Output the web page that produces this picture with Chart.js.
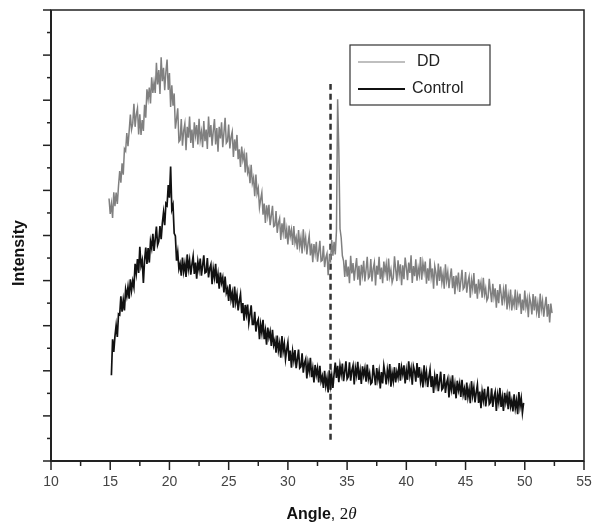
<!DOCTYPE html>
<html>
<head>
<meta charset="utf-8">
<script src="https://cdn.jsdelivr.net/npm/chart.js@4"></script>
<style>
  html, body { margin: 0; padding: 0; background: #fff; }
  #wrap { width: 592px; height: 526px; }
</style>
</head>
<body>
<div id="wrap"><canvas id="xrd" width="592" height="526"></canvas></div>
<script>
// angle grid (2θ, degrees) of the scans
const step = 0.1;
const ddStart = 14.9;
const ctrlStart = 15.1;

// DD intensities (arbitrary units), 2° per row
const ddValues = [
  5.82,5.48,5.70,5.39,5.96,5.65,5.95,5.70,6.10,6.43,6.17,6.60,6.35,6.92,6.87,7.27,6.98,7.32,7.68,7.35,
  7.48,7.92,7.41,7.68,7.82,7.24,7.69,7.23,7.56,7.32,7.90,7.61,8.24,8.03,8.28,7.93,8.51,8.16,8.40,8.16,
  8.83,8.35,8.67,8.14,8.95,8.42,8.72,8.22,8.63,8.90,8.23,8.60,7.85,8.33,7.88,8.15,7.37,7.58,7.82,7.08,
  7.12,7.58,6.99,7.32,7.48,6.89,7.41,7.17,7.64,7.05,7.35,6.94,7.51,7.22,7.45,7.02,7.59,7.12,7.30,6.96,
  7.54,7.09,7.35,6.92,7.64,7.18,7.45,6.99,7.32,7.58,7.02,7.38,6.86,7.41,7.15,7.51,6.96,7.28,7.61,7.05,
  7.09,7.46,6.93,7.18,7.30,6.74,7.13,6.88,7.23,6.69,6.91,6.52,6.97,6.68,6.82,6.40,6.84,6.39,6.49,6.16,
  6.57,6.16,6.28,5.87,6.35,5.93,6.05,5.62,5.80,5.95,5.46,5.71,5.28,5.67,5.44,5.68,5.23,5.44,5.66,5.20,
  5.22,5.54,5.06,5.28,5.38,4.90,5.27,5.06,5.40,4.93,5.14,4.80,5.22,4.98,5.13,4.79,5.21,4.84,4.96,4.69,
  5.12,4.76,4.95,4.60,5.14,4.77,4.95,4.58,4.82,5.00,4.56,4.82,4.41,4.81,4.60,4.86,4.42,4.64,4.88,4.43,
  4.45,4.77,4.30,4.51,4.60,4.12,4.52,4.44,4.90,4.55,4.86,4.58,5.10,8.02,6.90,5.15,4.95,4.55,4.44,4.08,
  4.46,4.09,4.31,3.94,4.55,4.16,4.39,4.00,4.28,4.50,4.02,4.33,3.89,4.35,4.13,4.44,3.98,4.24,4.53,4.05,
  4.09,4.48,3.98,4.26,4.40,3.89,4.33,4.13,4.53,4.03,4.29,3.94,4.42,4.18,4.37,4.00,4.49,4.09,4.24,3.96,
  4.06,4.54,4.25,3.99,4.45,4.14,4.36,3.90,4.34,4.03,4.51,4.29,4.01,4.40,4.17,4.56,3.95,4.32,4.10,4.47,
  4.00,4.28,4.12,4.52,4.02,4.39,4.19,4.42,3.93,4.27,4.00,4.49,4.08,4.27,3.82,4.32,4.17,3.89,4.38,3.99,
  4.31,3.96,4.15,3.82,4.36,4.00,4.19,3.83,4.08,4.27,3.83,4.10,3.70,4.11,3.90,4.18,3.75,3.99,4.24,3.81,
  3.85,4.19,3.73,3.97,4.09,3.62,4.01,3.82,4.17,3.71,3.93,3.60,4.03,3.80,3.96,3.62,4.06,3.69,3.83,3.56,
  3.62,4.04,3.77,3.52,3.93,3.64,3.83,3.40,3.79,3.50,3.92,3.71,3.45,3.79,3.58,3.92,3.36,3.68,3.47,3.80,
  3.34,3.59,3.45,3.80,3.35,3.67,3.50,3.71,3.26,3.58,3.34,3.78,3.42,3.59,3.19,3.64,3.51,3.25,3.70,3.34,
  3.65,3.31,3.50,3.17,3.71,3.36,3.55,3.20,3.44,3.64,3.20,3.48,3.07,3.49,3.28
];

// Control intensities, 2° per row
const ctrlValues = [
  1.90,2.70,2.42,2.77,3.01,2.75,3.26,3.24,3.65,3.31,3.57,3.34,3.80,3.65,3.86,3.60,4.03,3.78,3.99,3.85,
  4.37,4.16,4.48,4.17,4.75,4.33,4.45,3.95,4.45,4.73,4.37,4.72,4.40,4.87,4.72,5.04,4.66,4.92,5.20,4.79,
  4.87,5.21,4.92,5.27,5.51,5.23,5.71,5.67,6.12,5.84,6.53,5.58,5.68,5.05,4.99,4.44,4.63,4.26,4.37,4.11,
  4.51,4.20,4.38,4.08,4.58,4.26,4.45,4.13,4.36,4.54,4.15,4.40,4.04,4.42,4.24,4.49,4.11,4.33,4.56,4.17,
  4.19,4.50,4.07,4.27,4.36,3.92,4.26,4.07,4.37,3.94,4.14,3.82,4.18,3.95,4.07,3.74,4.09,3.73,3.82,3.55,
  3.92,3.58,3.73,3.40,3.87,3.52,3.69,3.34,3.55,3.70,3.28,3.50,3.11,3.46,3.25,3.47,3.06,3.25,3.45,3.03,
  3.03,3.31,2.87,3.07,3.14,2.70,3.03,2.84,3.13,2.70,2.89,2.58,2.96,2.74,2.87,2.55,2.91,2.57,2.68,2.40,
  2.78,2.45,2.61,2.29,2.77,2.43,2.60,2.26,2.47,2.63,2.22,2.45,2.07,2.43,2.23,2.46,2.06,2.26,2.47,2.06,
  2.09,2.39,1.96,2.17,2.26,1.83,2.17,1.99,2.29,1.86,2.05,1.74,2.13,1.91,2.06,1.74,2.11,1.77,1.88,1.62,
  2.00,1.67,1.84,1.52,2.01,1.68,1.89,1.62,1.93,2.18,1.84,2.11,1.75,2.11,1.92,2.16,1.77,1.98,2.21,1.82,
  1.87,2.19,1.78,2.01,2.12,1.70,2.06,1.90,2.20,1.80,2.00,1.71,2.10,1.90,2.05,1.76,2.14,1.82,1.95,1.71,
  1.74,2.13,1.90,1.68,2.06,1.81,1.99,1.61,1.97,1.72,2.11,1.93,1.70,2.02,1.83,2.15,1.65,1.95,1.77,2.08,
  1.74,1.98,1.85,2.17,1.78,2.08,1.92,2.12,1.72,2.01,1.80,2.21,1.89,2.05,1.69,2.10,1.99,1.76,2.17,1.85,
  2.08,1.76,1.93,1.63,2.12,1.79,1.97,1.64,1.86,2.03,1.64,1.88,1.51,1.88,1.69,1.93,1.55,1.76,1.98,1.58,
  1.62,1.93,1.51,1.73,1.83,1.41,1.76,1.59,1.90,1.48,1.69,1.39,1.78,1.57,1.72,1.42,1.80,1.47,1.60,1.35,
  1.74,1.42,1.59,1.28,1.77,1.45,1.63,1.30,1.52,1.69,1.29,1.54,1.17,1.54,1.35,1.60,1.21,1.43,1.65,1.26,
  1.30,1.61,1.20,1.42,1.53,1.11,1.47,1.30,1.62,1.20,1.41,1.11,1.51,1.30,1.46,1.15,1.54,1.21,1.34,1.10,
  1.48,1.17,1.34,1.04,1.53,1.21,1.39,1.07,1.29
];

// vertical reference line (dashed)
const markerAngle = [33.6, 33.6];
const markerValues = [0.47, 8.36];

// axis ranges and ticks
const xMin = 10, xMax = 55;
const yMin = 0, yMax = 10;
const xMajorTicks = [10, 15, 20, 25, 30, 35, 40, 45, 50, 55];
const yMajorStep = 1;

const seriesNames = ['DD', 'Control'];
const seriesColors = ['#808080', '#111111'];

function toPoints(start, values) {
  return values.map((v, i) => ({ x: +(start + i * step).toFixed(2), y: v }));
}

const FONT = '"Liberation Sans", Arial, sans-serif';

// draws the frame, ticks, labels, titles and legend box
const framePlugin = {
  id: 'frame',
  afterDatasetsDraw(chart) {
    const ctx = chart.ctx;
    const xs = chart.scales.x, ys = chart.scales.y;
    const a = chart.chartArea;
    ctx.save();
    ctx.strokeStyle = '#222';
    ctx.lineWidth = 1.5;
    ctx.strokeRect(a.left, a.top, a.right - a.left, a.bottom - a.top);
    ctx.lineWidth = 2;
    ctx.beginPath();
    ctx.moveTo(a.left, a.top); ctx.lineTo(a.left, a.bottom); ctx.lineTo(a.right, a.bottom);
    ctx.stroke();

    // x ticks
    ctx.lineWidth = 1.5;
    ctx.fillStyle = '#444';
    ctx.font = '14px ' + FONT;
    ctx.textAlign = 'center';
    ctx.textBaseline = 'middle';
    for (let v = xMin; v <= xMax + 0.01; v += 2.5) {
      const px = xs.getPixelForValue(v);
      const major = xMajorTicks.includes(v);
      ctx.beginPath();
      ctx.moveTo(px, a.bottom);
      ctx.lineTo(px, a.bottom + (major ? 9 : 5));
      ctx.stroke();
      if (major) ctx.fillText(String(v), px, a.bottom + 21);
    }
    // y ticks (no labels)
    for (let v = yMin; v <= yMax + 0.01; v += yMajorStep / 2) {
      const py = ys.getPixelForValue(v);
      const major = Math.abs(v % yMajorStep) < 0.01;
      ctx.beginPath();
      ctx.moveTo(a.left, py);
      ctx.lineTo(a.left - (major ? 8 : 4), py);
      ctx.stroke();
    }

    // x title: "Angle, 2θ"
    ctx.fillStyle = '#111';
    ctx.textAlign = 'left';
    const parts = [
      ['Angle', 'bold 16px ' + FONT],
      [', ', '16px ' + FONT],
      ['2', '17px "Liberation Serif", serif'],
      ['\u03B8', 'italic 17px "Liberation Serif", serif']
    ];
    let total = 0;
    parts.forEach(p => { ctx.font = p[1]; total += ctx.measureText(p[0]).width; });
    let tx = (a.left + a.right) / 2 - total / 2 + 4;
    parts.forEach(p => {
      ctx.font = p[1];
      ctx.fillText(p[0], tx, 515);
      tx += ctx.measureText(p[0]).width;
    });

    // y title
    ctx.save();
    ctx.translate(20, 253);
    ctx.rotate(-Math.PI / 2);
    ctx.textAlign = 'center';
    ctx.font = 'bold 16px ' + FONT;
    ctx.fillText('Intensity', 0, 0);
    ctx.restore();

    // legend
    ctx.fillStyle = '#fff';
    ctx.fillRect(350, 45, 140, 60);
    ctx.strokeStyle = '#333';
    ctx.lineWidth = 1.2;
    ctx.strokeRect(350, 45, 140, 60);
    const rows = [62, 89];
    seriesNames.forEach((name, i) => {
      ctx.strokeStyle = seriesColors[i];
      ctx.lineWidth = i === 0 ? 1.2 : 2;
      ctx.beginPath();
      ctx.moveTo(358, rows[i]);
      ctx.lineTo(405, rows[i]);
      ctx.stroke();
      ctx.fillStyle = '#222';
      ctx.font = '16px ' + FONT;
      ctx.textAlign = 'left';
      ctx.fillText(name, i === 0 ? 417 : 412, rows[i]);
    });
    ctx.restore();
  }
};

new Chart(document.getElementById('xrd'), {
  type: 'line',
  data: {
    datasets: [
      {
        label: seriesNames[0],
        data: toPoints(ddStart, ddValues),
        borderColor: seriesColors[0],
        borderWidth: 1.5,
        pointRadius: 0,
        tension: 0
      },
      {
        label: seriesNames[1],
        data: toPoints(ctrlStart, ctrlValues),
        borderColor: seriesColors[1],
        borderWidth: 1.7,
        pointRadius: 0,
        tension: 0
      },
      {
        label: 'marker',
        data: markerAngle.map((x, i) => ({ x: x, y: markerValues[i] })),
        borderColor: '#333',
        borderWidth: 2.5,
        borderDash: [6, 4],
        pointRadius: 0
      }
    ]
  },
  options: {
    responsive: false,
    animation: false,
    layout: { padding: { left: 51, top: 10, right: 8, bottom: 65 } },
    plugins: { legend: { display: false }, tooltip: { enabled: false } },
    scales: {
      x: { type: 'linear', min: xMin, max: xMax, display: false },
      y: { type: 'linear', min: yMin, max: yMax, display: false }
    }
  },
  plugins: [framePlugin]
});
</script>
</body>
</html>
